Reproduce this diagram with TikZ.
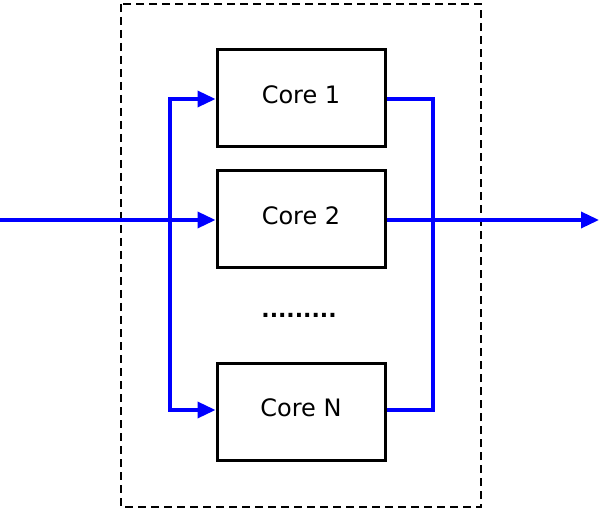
\documentclass[tikz,border=0pt]{standalone}
\usepackage{fontspec}
\setmainfont{DejaVu Sans}
\usetikzlibrary{arrows.meta}
\begin{document}
\begin{tikzpicture}[x=1pt,y=-1pt,
  core/.style={draw=black,line width=3pt,minimum width=168pt,minimum height=97pt,inner sep=0pt,text depth=8pt,font=\fontsize{24}{28}\selectfont},
  wire/.style={draw=blue,line width=3.5pt},
  arr/.style={wire,-{Triangle[length=18pt,width=16pt]}},
  frame/.style={draw=black,line width=1.8pt,dash pattern=on 8pt off 5pt}]
\useasboundingbox (0,0) rectangle (599,510);
\draw[frame] (121,4) rectangle (481,507);
\node[core] (c1) at (301,98.5) {Core 1};
\node[core] (c2) at (301,219.5) {Core 2};
\node[core] (cn) at (301,411.5) {Core N};
\node[font=\fontsize{22}{26}\selectfont\bfseries,inner sep=0pt] (dots) at (299,315) {.........};
\coordinate (in) at (0,220);
\coordinate (out) at (599,220);
\coordinate (sl) at (170,220);
\coordinate (sr) at (433,220);
\draw[arr] (in) -- (c2.west |- in);
\draw[arr] (sl) -- (170,99) -- (c1.west |- 0,99);
\draw[arr] (sl) -- (170,410) -- (cn.west |- 0,410);
\draw[wire] (c1.east |- 0,99) -- (433,99) -- (sr);
\draw[wire] (cn.east |- 0,410) -- (433,410) -- (sr);
\draw[arr] (c2.east |- out) -- (out);
\end{tikzpicture}
\end{document}
